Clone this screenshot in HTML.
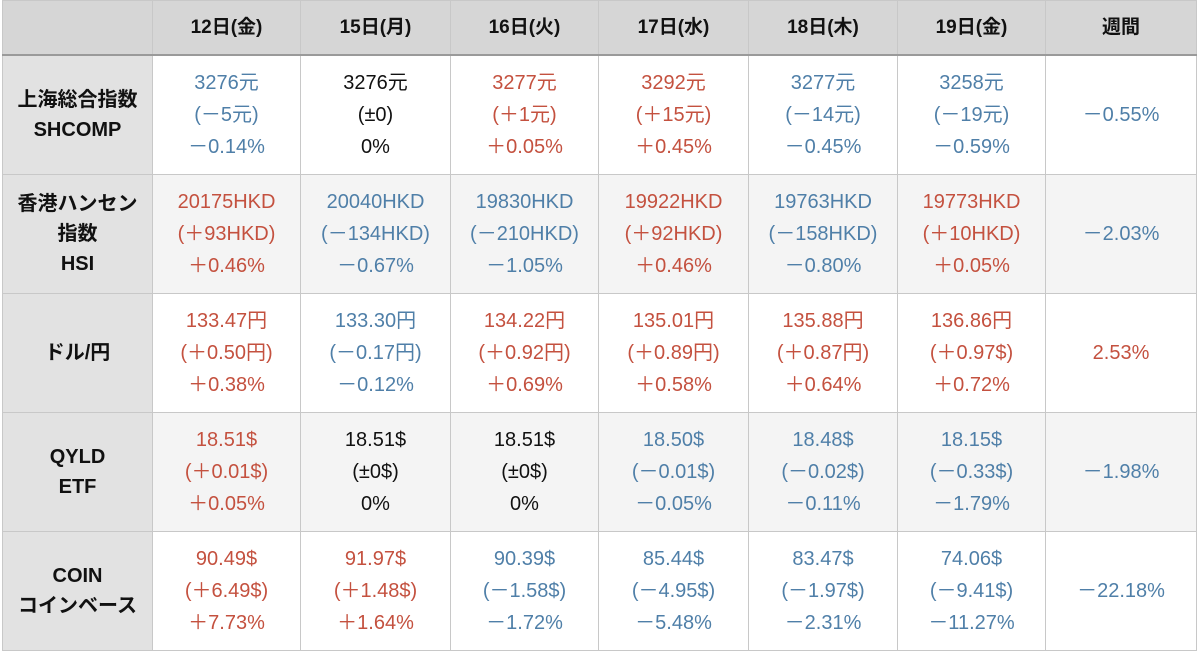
<!DOCTYPE html>
<html><head><meta charset="utf-8"><style>
body{margin:0;width:1200px;height:654px;background:#fff;overflow:hidden}
table{position:absolute;left:2px;top:0;border-collapse:collapse;table-layout:fixed;font-family:"Liberation Sans","Noto Sans CJK JP",sans-serif;font-size:20px;text-align:center}
td,th{border:1px solid #c8c8c8;padding:0;line-height:32px}
th{background:#d6d6d6;height:53px;font-weight:bold;font-size:19px;color:#111;border-bottom:2px solid #9a9a9a}
td.h{background:#e2e2e2;font-weight:bold;color:#111;font-size:20px;line-height:30px}
tr.g td{background:#f4f4f4}
tr.g td.h{background:#e2e2e2}
td{height:118px}
.b{color:#4f7fa8}.r{color:#c4513f}.k{color:#111}
</style></head><body>
<table>
<colgroup><col style="width:150px"><col style="width:148px"><col style="width:150px"><col style="width:148px"><col style="width:150px"><col style="width:149px"><col style="width:148px"><col style="width:151px"></colgroup>
<tr><th></th><th>12日(金)</th><th>15日(月)</th><th>16日(火)</th><th>17日(水)</th><th>18日(木)</th><th>19日(金)</th><th>週間</th></tr>
<tr><td class="h">上海総合指数<br>SHCOMP</td>
<td class="b">3276元<br>(－5元)<br>－0.14%</td><td class="k">3276元<br>(±0)<br>0%</td><td class="r">3277元<br>(＋1元)<br>＋0.05%</td><td class="r">3292元<br>(＋15元)<br>＋0.45%</td><td class="b">3277元<br>(－14元)<br>－0.45%</td><td class="b">3258元<br>(－19元)<br>－0.59%</td><td class="b">－0.55%</td></tr>
<tr class="g"><td class="h">香港ハンセン<br>指数<br>HSI</td>
<td class="r">20175HKD<br>(＋93HKD)<br>＋0.46%</td><td class="b">20040HKD<br>(－134HKD)<br>－0.67%</td><td class="b">19830HKD<br>(－210HKD)<br>－1.05%</td><td class="r">19922HKD<br>(＋92HKD)<br>＋0.46%</td><td class="b">19763HKD<br>(－158HKD)<br>－0.80%</td><td class="r">19773HKD<br>(＋10HKD)<br>＋0.05%</td><td class="b">－2.03%</td></tr>
<tr><td class="h">ドル/円</td>
<td class="r">133.47円<br>(＋0.50円)<br>＋0.38%</td><td class="b">133.30円<br>(－0.17円)<br>－0.12%</td><td class="r">134.22円<br>(＋0.92円)<br>＋0.69%</td><td class="r">135.01円<br>(＋0.89円)<br>＋0.58%</td><td class="r">135.88円<br>(＋0.87円)<br>＋0.64%</td><td class="r">136.86円<br>(＋0.97$)<br>＋0.72%</td><td class="r">2.53%</td></tr>
<tr class="g"><td class="h">QYLD<br>ETF</td>
<td class="r">18.51$<br>(＋0.01$)<br>＋0.05%</td><td class="k">18.51$<br>(±0$)<br>0%</td><td class="k">18.51$<br>(±0$)<br>0%</td><td class="b">18.50$<br>(－0.01$)<br>－0.05%</td><td class="b">18.48$<br>(－0.02$)<br>－0.11%</td><td class="b">18.15$<br>(－0.33$)<br>－1.79%</td><td class="b">－1.98%</td></tr>
<tr><td class="h">COIN<br>コインベース</td>
<td class="r">90.49$<br>(＋6.49$)<br>＋7.73%</td><td class="r">91.97$<br>(＋1.48$)<br>＋1.64%</td><td class="b">90.39$<br>(－1.58$)<br>－1.72%</td><td class="b">85.44$<br>(－4.95$)<br>－5.48%</td><td class="b">83.47$<br>(－1.97$)<br>－2.31%</td><td class="b">74.06$<br>(－9.41$)<br>－11.27%</td><td class="b">－22.18%</td></tr>
</table>
</body></html>
